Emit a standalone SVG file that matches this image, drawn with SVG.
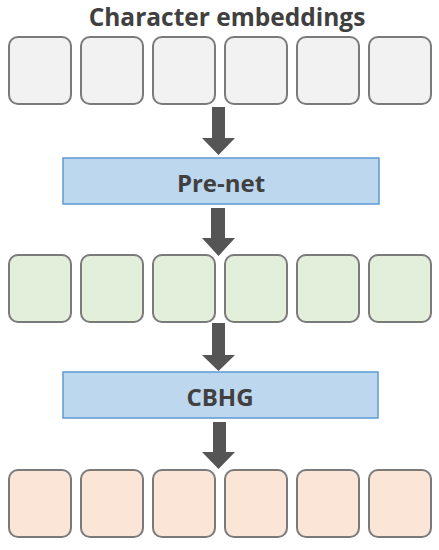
<svg xmlns="http://www.w3.org/2000/svg" width="439" height="550" viewBox="0 0 439 550">
<style>
.b{stroke:#7a7a7a;stroke-width:2}
.g{fill:#f2f2f2}
.gr{fill:#e2efda}
.pe{fill:#fbe5d6}
.bar{fill:#bdd7ee;stroke:#5b9bd5;stroke-width:1.5}
.t{font-family:"Open Sans","Noto Sans","DejaVu Sans",sans-serif;font-weight:bold;fill:#404040;text-anchor:middle}
.ar{fill:#555555}
</style>
<defs>
<rect id="cell" width="62" height="67" rx="9" ry="9"/>
</defs>
<rect width="439" height="550" fill="#ffffff"/>
<g id="title"><text class="t" x="227" y="26" font-size="24.5">Character embeddings</text></g>
<g id="row1">
<use href="#cell" x="9" y="37" class="b g"/>
<use href="#cell" x="81" y="37" class="b g"/>
<use href="#cell" x="153" y="37" class="b g"/>
<use href="#cell" x="225" y="37" class="b g"/>
<use href="#cell" x="297" y="37" class="b g"/>
<use href="#cell" x="369" y="37" class="b g"/>
</g>
<g id="prenet">
<rect class="bar" x="63" y="158" width="316" height="46"/>
<text class="t" x="221" y="192" font-size="24">Pre-net</text>
</g>
<g id="row2">
<use href="#cell" x="9" y="255" class="b gr"/>
<use href="#cell" x="81" y="255" class="b gr"/>
<use href="#cell" x="153" y="255" class="b gr"/>
<use href="#cell" x="225" y="255" class="b gr"/>
<use href="#cell" x="297" y="255" class="b gr"/>
<use href="#cell" x="369" y="255" class="b gr"/>
</g>
<g id="cbhg">
<rect class="bar" x="63" y="372" width="315" height="46"/>
<text class="t" x="220" y="406" font-size="24">CBHG</text>
</g>
<g id="row3">
<use href="#cell" x="9" y="470" class="b pe"/>
<use href="#cell" x="81" y="470" class="b pe"/>
<use href="#cell" x="153" y="470" class="b pe"/>
<use href="#cell" x="225" y="470" class="b pe"/>
<use href="#cell" x="297" y="470" class="b pe"/>
<use href="#cell" x="369" y="470" class="b pe"/>
</g>
<g id="connectors">
<polygon class="ar" points="212,107 225,107 225,138 235,138 218.5,155 202,138 212,138"/>
<polygon class="ar" points="211,208 225,208 225,238 235,238 218.5,256 202,238 211,238"/>
<polygon class="ar" points="212,323 225,323 225,355 235,355 218.5,371 202,355 212,355"/>
<polygon class="ar" points="213,422 226,422 226,452 235,452 218.5,469 202,452 213,452"/>
</g>
</svg>
